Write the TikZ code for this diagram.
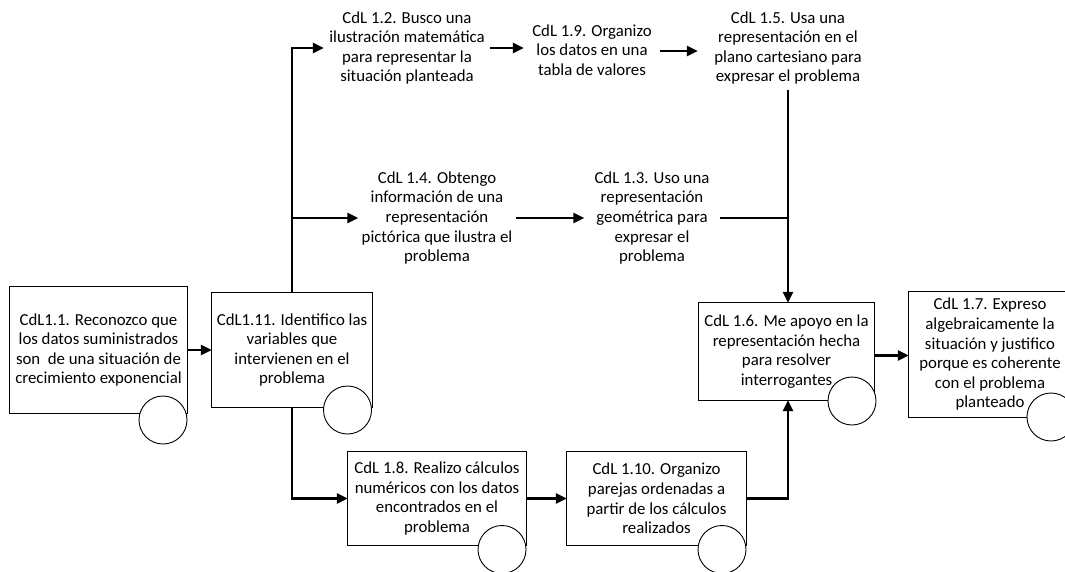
\documentclass[tikz,border=0pt]{standalone}
\usepackage{fontspec}
\setmainfont{Carlito}
\usetikzlibrary{arrows.meta,calc}
\pgfdeclarelayer{bg}
\pgfsetlayers{bg,main}
\begin{document}
\begin{tikzpicture}[x=1pt,y=-1pt,
  every node/.style={font=\fontsize{16.8}{19.6}\selectfont, align=center, inner sep=0pt},
  frame/.style={draw=black, line width=1pt},
  circ/.style={circle, draw=black, line width=0.9pt, fill=white, minimum size=48pt},
  arr/.style={line width=2.8pt, -{Triangle[length=11pt,width=10pt]}},
  link/.style={line width=2.8pt}]
\useasboundingbox (0,0) rectangle (1065,572);

% boxed steps
\node[minimum width=177pt, minimum height=126pt] (b11) at (98.5,350)
  {CdL1.1. Reconozco que\\los datos suministrados\\son\ \ de una situación de\\crecimiento exponencial};
\node[minimum width=160pt, minimum height=114pt] (b111) at (292,350)
  {CdL1.11. Identifico las\\variables que\\intervienen en el\\problema};
\node[minimum width=175pt, minimum height=97pt] (b16) at (786.5,351.5)
  {CdL 1.6. Me apoyo en la\\representación hecha\\para resolver\\interrogantes};
\node[minimum width=162pt, minimum height=125pt] (b17) at (990,354.5)
  {CdL 1.7. Expreso\\algebraicamente la\\situación y justifico\\porque es coherente\\con el problema\\planteado};
\node[minimum width=178pt, minimum height=93pt] (b18) at (437,498.5)
  {CdL 1.8. Realizo cálculos\\numéricos con los datos\\encontrados en el\\problema};
\node[minimum width=179pt, minimum height=93pt] (b110) at (656.5,498.5)
  {CdL 1.10. Organizo\\parejas ordenadas a\\partir de los cálculos\\realizados};

% free text steps
\node[minimum width=166pt] (t12) at (407,48)
  {CdL 1.2. Busco una\\ilustración matemática\\para representar la\\situación planteada};
\node[minimum width=136pt] (t19) at (592,50)
  {CdL 1.9. Organizo\\los datos en una\\tabla de valores};
\node[minimum width=180pt, inner ysep=5pt] (t15) at (788,48)
  {CdL 1.5. Usa una\\representación en el\\plano cartesiano para\\expresar el problema};
\node[minimum width=157pt] (t14) at (437,218)
  {CdL 1.4. Obtengo\\información de una\\representación\\pictórica que ilustra el\\problema};
\node[minimum width=135pt] (t13) at (652,218)
  {CdL 1.3. Uso una\\representación\\geométrica para\\expresar el\\problema};

% frames and circles behind the text
\begin{pgfonlayer}{bg}
\foreach \b in {b11,b111,b16,b17,b18,b110}
  \draw[frame] (\b.south west) rectangle (\b.north east);
\node[circ] (c11) at (163,420) {};
\node[circ] (c111) at (347.5,410) {};
\node[circ] (c16) at (852,401) {};
\node[circ] (c17) at (1051,417) {};
\node[circ] (c18) at (502,549.5) {};
\node[circ] (c110) at (722,549.5) {};
\end{pgfonlayer}

% connectors
\draw[arr] (b11.east) -- (b111.west);
\draw[arr] (b111.north) |- (t12.west);
\draw[arr] (t12.east) -- (t12.east -| t19.west);
\draw[arr] ([yshift=-1pt]t19.east) -- ([yshift=-1pt]t19.east -| t15.west);
\draw[arr] (b111.north |- t14.west) -- (t14.west);
\draw[arr] (t14.east) -- (t13.west);
\draw[link] (t13.east) -- (t13.east -| t15.south);
\draw[arr] (t15.south) -- (t15.south |- b16.north);
\draw[arr] ([yshift=-4pt]b16.east) -- ([yshift=-4pt]b16.east -| b17.west);
\draw[arr] (b111.south) |- (b18.west);
\draw[arr] (b18.east) -- (b110.west);
\draw[arr] (b110.east) -| (t15.south |- b16.south);
\end{tikzpicture}
\end{document}
